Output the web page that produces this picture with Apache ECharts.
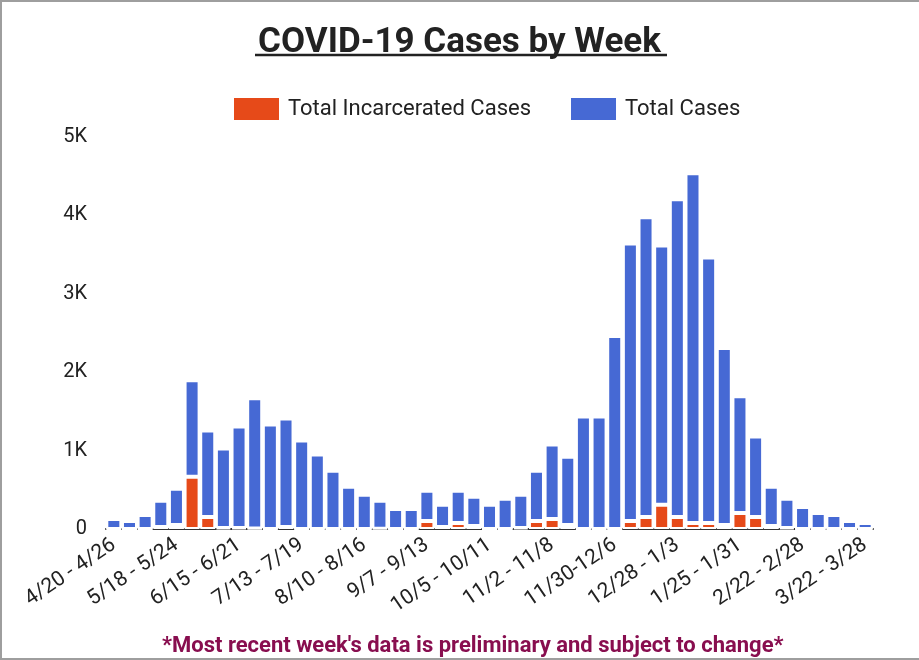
<!DOCTYPE html>
<html>
<head>
<meta charset="utf-8">
<script src="https://cdn.jsdelivr.net/npm/echarts@6/dist/echarts.min.js"></script>
<style>
html,body{margin:0;padding:0;background:#fff;}
#wrap{position:relative;width:919px;height:660px;}
#chart{position:absolute;left:0;top:0;width:919px;height:660px;}
#frame{position:absolute;left:0;top:0;width:917px;height:656px;border-top:2px solid #9e9e9e;border-left:2px solid #9e9e9e;border-bottom:2px solid #9e9e9e;pointer-events:none;}
</style>
</head>
<body>
<div id="wrap"><div id="chart"></div><div id="frame"></div></div>
<script>
const weeks = ["4/20 - 4/26","4/27 - 5/3","5/4 - 5/10","5/11 - 5/17","5/18 - 5/24","5/25 - 5/31","6/1 - 6/7","6/8 - 6/14","6/15 - 6/21","6/22 - 6/28","6/29 - 7/5","7/6 - 7/12","7/13 - 7/19","7/20 - 7/26","7/27 - 8/2","8/3 - 8/9","8/10 - 8/16","8/17 - 8/23","8/24 - 8/30","8/31 - 9/6","9/7 - 9/13","9/14 - 9/20","9/21 - 9/27","9/28 - 10/4","10/5 - 10/11","10/12 - 10/18","10/19 - 10/25","10/26 - 11/1","11/2 - 11/8","11/9 - 11/15","11/16 - 11/22","11/23 - 11/29","11/30-12/6","12/7 - 12/13","12/14 - 12/20","12/21 - 12/27","12/28 - 1/3","1/4 - 1/10","1/11 - 1/17","1/18 - 1/24","1/25 - 1/31","2/1 - 2/7","2/8 - 2/14","2/15 - 2/21","2/22 - 2/28","3/1 - 3/7","3/8 - 3/14","3/15 - 3/21","3/22 - 3/28"];
const incarceratedCases = [0,0,0,26,51,667,154,13,13,5,0,26,0,0,0,0,0,4,0,0,103,26,77,38,0,0,13,103,128,51,0,0,0,103,154,308,154,77,77,51,205,154,38,13,0,0,0,0,0];
const totalCases = [128,103,180,333,462,1231,1103,1013,1295,1662,1333,1384,1128,949,744,539,436,355,256,256,384,282,410,372,308,385,423,641,949,872,1436,1436,2462,3538,3821,3308,4051,4462,3385,2257,1487,1026,501,372,282,205,180,103,77];
const yTicks = ["0","1K","2K","3K","4K","5K"];

const chart = echarts.init(document.getElementById('chart'));
const FONT = 'Roboto';
chart.setOption({
  animation:false,
  textStyle:{fontFamily:FONT},
  title:[
    {text:'COVID-19 Cases by Week', left:'center', top:21,
     textStyle:{fontFamily:FONT, fontWeight:'bold', fontSize:35, color:'#222'}},
    {text:"*Most recent week's data is preliminary and subject to change*", left:157, top:630,
     textStyle:{fontFamily:FONT, fontWeight:'bold', fontSize:22, color:'#880e4f'}}
  ],
  graphic:[{type:'line', shape:{x1:255,y1:55,x2:667,y2:55}, style:{stroke:'#222', lineWidth:2.5}}],
  legend:{left:234, top:98, padding:0, itemWidth:45, itemHeight:22, itemGap:40, icon:'rect',
    itemStyle:{borderWidth:0},
    textStyle:{fontFamily:FONT, fontSize:22, color:'#222', padding:[0,0,0,4]},
    data:['Total Incarcerated Cases','Total Cases']},
  grid:{left:106, right:46, top:137, bottom:131},
  xAxis:{type:'category', data:weeks,
    axisLine:{lineStyle:{color:'#333', width:2}}, axisTick:{show:false},
    axisLabel:{interval:3, rotate:34, fontSize:21, color:'#222', margin:14, fontFamily:FONT, overflow:'none', hideOverlap:false}},
  yAxis:{type:'value', min:0, max:5000, interval:1000,
    splitLine:{show:false}, axisLine:{show:false}, axisTick:{show:false},
    axisLabel:{fontSize:20, color:'#222', margin:19, fontFamily:FONT,
      formatter:function(v){return yTicks[Math.round(v/1000)];}}},
  series:[
    {name:'Total Incarcerated Cases', type:'bar', stack:'c', data:incarceratedCases,
     barCategoryGap:'4%', itemStyle:{color:'#e64a19', borderColor:'#fff', borderWidth:2}},
    {name:'Total Cases', type:'bar', stack:'c', data:totalCases,
     barCategoryGap:'4%', itemStyle:{color:'#4669d4', borderColor:'#fff', borderWidth:2}}
  ]
});
</script>
</body>
</html>
